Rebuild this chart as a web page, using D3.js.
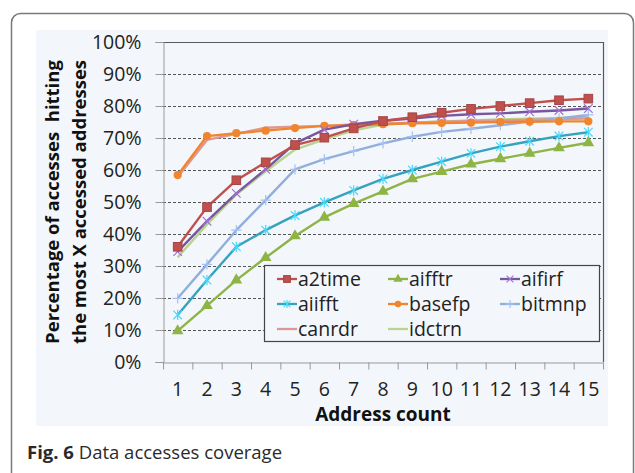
<!DOCTYPE html>
<html>
<head>
<meta charset="utf-8">
<script src="https://cdn.jsdelivr.net/npm/d3@7"></script>
<style>
  body { margin: 0; background: #fff; }
  svg { display: block; font-family: "Open Sans", sans-serif; }
</style>
</head>
<body>
<svg width="635" height="473"></svg>
<script>
const counts = d3.range(1, 16);
const yTicks = d3.range(0, 101, 10);

const a2time = [36, 48.4, 56.8, 62.4, 67.8, 70.1, 73, 75.3, 76.5, 77.9, 79.1, 80, 80.9, 81.8, 82.3];
const aifftr = [9.7, 17.6, 25.6, 32.6, 39.4, 45.2, 49.5, 53.3, 57.2, 59.5, 61.8, 63.5, 65.2, 66.9, 68.5];
const aifirf = [34.5, 44, 52.7, 60.2, 68.3, 72.6, 74.3, 75.4, 76.1, 76.9, 77.4, 77.7, 78.2, 78.6, 79.2];
const aiifft = [14.7, 25.6, 36, 41.2, 45.8, 49.9, 53.6, 57.2, 60, 62.6, 65.2, 67.3, 69, 70.6, 71.8];
const basefp = [58.4, 70.6, 71.5, 72.3, 73.1, 73.8, 74, 74.3, 74.6, 74.7, 74.8, 75, 75.1, 75.2, 75.2];
const bitmnp = [19.9, 30.5, 41.2, 50.6, 60.2, 63.4, 65.9, 68.3, 70.4, 71.9, 72.9, 74, 75.1, 76.1, 77.2];
const canrdr = [57.8, 69.4, 71.3, 73.2, 73.5, 73.8, 74.2, 74.5, 74.8, 75.1, 75.3, 75.5, 75.7, 75.9, 76.1];
const idctrn = [32.7, 43, 52.3, 59.6, 66.4, 69.6, 72.4, 74.2, 74.8, 75.2, 75.5, 75.8, 76, 76.3, 76.5];

const series = [
  { name: "a2time", values: a2time, color: "#c0504d", marker: "square" },
  { name: "aifftr", values: aifftr, color: "#8db444", marker: "triangle" },
  { name: "aifirf", values: aifirf, color: "#7a55a0", marker: "x" },
  { name: "aiifft", values: aiifft, color: "#35a3be", marker: "star" },
  { name: "basefp", values: basefp, color: "#f0852e", marker: "circle" },
  { name: "bitmnp", values: bitmnp, color: "#92aedc", marker: "plus" },
  { name: "canrdr", values: canrdr, color: "#dc9896", marker: "none" },
  { name: "idctrn", values: idctrn, color: "#b9d48e", marker: "none" },
];

const svg = d3.select("svg");

// figure frame
svg.append("rect")
  .attr("x", 11.5).attr("y", 13.5)
  .attr("width", 622).attr("height", 520)
  .attr("rx", 9)
  .attr("fill", "none").attr("stroke", "#7a7a7a").attr("stroke-width", 1.5);

// chart background
svg.append("rect")
  .attr("x", 36).attr("y", 30)
  .attr("width", 572).attr("height", 396)
  .attr("fill", "#f3f7fb");

const plot = { left: 163, top: 42, right: 603, bottom: 362 };

const x = d3.scaleBand().domain(counts).range([plot.left, plot.right]).padding(0);
const y = d3.scaleLinear().domain([0, 100]).range([plot.bottom, plot.top]);

// gridlines
svg.append("g")
  .selectAll("line")
  .data(yTicks.filter((d) => d > 0 && d < 100))
  .enter()
  .append("line")
  .attr("x1", plot.left).attr("x2", plot.right)
  .attr("y1", (d) => y(d) + 0.5).attr("y2", (d) => y(d) + 0.5)
  .attr("stroke", "#555")
  .attr("stroke-width", 1)
  .attr("stroke-dasharray", "3,2");

// plot frame top/right
svg.append("path")
  .attr("d", `M${plot.left},${plot.top + 0.5}H${plot.right + 0.5}V${plot.bottom}`)
  .attr("fill", "none").attr("stroke", "#595959").attr("stroke-width", 1.2);

// y axis
const yAxis = svg.append("g")
  .attr("transform", `translate(${plot.left + 0.5},0)`)
  .call(d3.axisLeft(y).tickValues(yTicks).tickFormat((d) => d + "%").tickSize(8).tickPadding(14));
yAxis.select(".domain").attr("stroke", "#999");
yAxis.selectAll(".tick line").attr("stroke", "#999");
yAxis.selectAll("text")
  .attr("font-size", 19.5).attr("fill", "#222")
  .attr("font-family", "Open Sans, sans-serif");

// x axis: labels at centers, ticks on band edges
const xAxis = svg.append("g")
  .attr("transform", `translate(0,${plot.bottom + 0.5})`)
  .call(d3.axisBottom(x).tickSize(0).tickPadding(20));
xAxis.select(".domain").attr("stroke", "#999");
xAxis.selectAll("text")
  .attr("font-size", 19.5).attr("fill", "#222")
  .attr("font-family", "Open Sans, sans-serif");
xAxis.selectAll(".edge")
  .data(counts.concat([16]))
  .enter()
  .append("line")
  .attr("x1", (d) => (d <= 15 ? x(d) : plot.right) + 0.5)
  .attr("x2", (d) => (d <= 15 ? x(d) : plot.right) + 0.5)
  .attr("y1", 0).attr("y2", 7)
  .attr("stroke", "#999");

// axis titles
svg.append("text")
  .attr("x", (plot.left + plot.right) / 2).attr("y", 421)
  .attr("text-anchor", "middle")
  .attr("font-size", 19).attr("font-weight", "bold").attr("fill", "#111")
  .text("Address count");

const yTitle = svg.append("g")
  .attr("transform", `translate(59,202) rotate(-90)`);
yTitle.append("text")
  .attr("x", 0).attr("y", 0)
  .attr("text-anchor", "middle")
  .attr("font-size", 18.5).attr("font-weight", "bold").attr("fill", "#111")
  .attr("xml:space", "preserve")
  .text("Percentage of accesses  hitting");
yTitle.append("text")
  .attr("x", 0).attr("y", 27)
  .attr("text-anchor", "middle")
  .attr("font-size", 18.5).attr("font-weight", "bold").attr("fill", "#111")
  .text("the most X accessed addresses");

// markers
function drawMarker(g, type, color, size) {
  const s = size;
  if (type === "square") {
    g.append("rect").attr("x", -s).attr("y", -s).attr("width", 2 * s).attr("height", 2 * s)
      .attr("fill", color).attr("stroke", d3.color(color).darker(0.4));
  } else if (type === "triangle") {
    g.append("path").attr("d", d3.symbol(d3.symbolTriangle, s * s * 3.2)())
      .attr("fill", color);
  } else if (type === "circle") {
    g.append("circle").attr("r", s * 0.95).attr("fill", color);
  } else if (type === "x") {
    g.append("path").attr("d", `M${-s},${-s}L${s},${s}M${-s},${s}L${s},${-s}`)
      .attr("stroke", d3.color(color).brighter(0.8)).attr("stroke-width", 1.2);
  } else if (type === "star") {
    g.append("path").attr("d", `M${-s},${-s}L${s},${s}M${-s},${s}L${s},${-s}M0,${-s * 1.2}V${s * 1.2}`)
      .attr("stroke", d3.color(color).brighter(0.8)).attr("stroke-width", 1.2);
  } else if (type === "plus") {
    g.append("path").attr("d", `M${-s * 1.2},0H${s * 1.2}M0,${-s * 1.2}V${s * 1.2}`)
      .attr("stroke", d3.color(color).brighter(0.3)).attr("stroke-width", 1.2);
  }
}

const cx = (i) => x(counts[i]) + x.bandwidth() / 2;
const line = d3.line().x((d, i) => cx(i)).y((d) => y(d));

// draw back-to-front so a2time ends up on top
const drawOrder = ["idctrn", "canrdr", "bitmnp", "basefp", "aiifft", "aifirf", "aifftr", "a2time"];
drawOrder.forEach((name) => {
  const s = series.find((d) => d.name === name);
  const g = svg.append("g");
  g.append("path")
    .datum(s.values)
    .attr("d", line)
    .attr("fill", "none")
    .attr("stroke", s.color)
    .attr("stroke-width", 2.4)
    .attr("stroke-linejoin", "round");
  if (s.marker !== "none") {
    s.values.forEach((v, i) => {
      const m = g.append("g").attr("transform", `translate(${cx(i)},${y(v)})`);
      drawMarker(m, s.marker, s.color, 4.3);
    });
  }
});

// legend
const legend = svg.append("g");
legend.append("rect")
  .attr("x", 264.5).attr("y", 265.5)
  .attr("width", 335).attr("height", 76)
  .attr("fill", "#f3f7fb").attr("stroke", "#444").attr("stroke-width", 1.2);

const colX = [277, 388, 500];
const rowY = [279, 304, 329];
series.forEach((s, i) => {
  const col = i % 3, row = Math.floor(i / 3);
  const g = legend.append("g").attr("transform", `translate(${colX[col]},${rowY[row]})`);
  g.append("line").attr("x1", 0).attr("x2", 20).attr("y1", 0).attr("y2", 0)
    .attr("stroke", s.color).attr("stroke-width", 2.3);
  if (s.marker !== "none") {
    const m = g.append("g").attr("transform", "translate(10,0)");
    drawMarker(m, s.marker, s.color, 3.4);
  }
  g.append("text")
    .attr("x", 21).attr("y", 7)
    .attr("font-size", 19.5).attr("fill", "#222")
    .text(s.name);
});

// caption
const cap = svg.append("text")
  .attr("x", 27).attr("y", 459)
  .attr("font-size", 18.5).attr("fill", "#2a2a2a");
cap.append("tspan").attr("font-weight", "bold").text("Fig. 6");
cap.append("tspan").text(" Data accesses coverage");
</script>
</body>
</html>
